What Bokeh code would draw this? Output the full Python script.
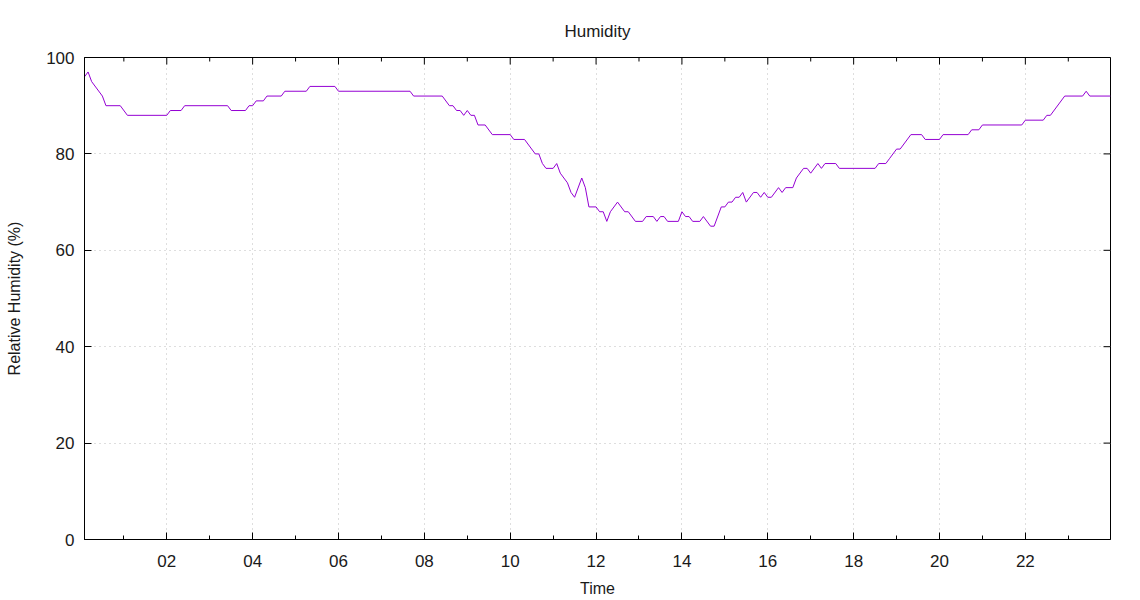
import math
import pandas as pd
from bokeh.plotting import figure
from bokeh.models import FixedTicker, Range1d
from bokeh.embed import file_html
from bokeh.resources import INLINE

# ---- data ----
times = ["00:05", "00:10", "00:15", "00:30", "00:35", "00:55", "01:05", "02:00", "02:05", "02:20",
         "02:25", "03:25", "03:30", "03:50", "03:55", "04:00", "04:05", "04:15", "04:20", "04:40",
         "04:45", "05:15", "05:20", "05:55", "06:00", "07:40", "07:45", "08:25", "08:35", "08:40",
         "08:45", "08:50", "08:55", "09:00", "09:05", "09:10", "09:15", "09:25", "09:35", "10:00",
         "10:05", "10:20", "10:35", "10:40", "10:45", "10:50", "11:00", "11:05", "11:10", "11:15",
         "11:20", "11:25", "11:30", "11:40", "11:45", "11:50", "12:00", "12:05", "12:10", "12:15",
         "12:20", "12:30", "12:40", "12:45", "12:55", "13:05", "13:10", "13:20", "13:25", "13:30",
         "13:35", "13:40", "13:55", "14:00", "14:05", "14:10", "14:15", "14:25", "14:30", "14:40",
         "14:45", "14:55", "15:00", "15:05", "15:10", "15:15", "15:20", "15:25", "15:30", "15:40",
         "15:45", "15:50", "15:55", "16:00", "16:05", "16:15", "16:20", "16:25", "16:35", "16:40",
         "16:50", "16:55", "17:00", "17:10", "17:15", "17:20", "17:35", "17:40", "18:30", "18:35",
         "18:45", "18:50", "19:00", "19:05", "19:20", "19:35", "19:40", "20:00", "20:05", "20:40",
         "20:45", "20:55", "21:00", "21:55", "22:00", "22:25", "22:30", "22:35", "22:55", "23:20",
         "23:25", "23:30", "23:59"]
humidity = [96, 97, 95, 92, 90, 90, 88, 88, 89, 89,
            90, 90, 89, 89, 90, 90, 91, 91, 92, 92,
            93, 93, 94, 94, 93, 93, 92, 92, 90, 90,
            89, 89, 88, 89, 88, 88, 86, 86, 84, 84,
            83, 83, 80, 80, 78, 77, 77, 78, 76, 75,
            74, 72, 71, 75, 73, 69, 69, 68, 68, 66,
            68, 70, 68, 68, 66, 66, 67, 67, 66, 67,
            67, 66, 66, 68, 67, 67, 66, 66, 67, 65,
            65, 69, 69, 70, 70, 71, 71, 72, 70, 72,
            72, 71, 72, 71, 71, 73, 72, 73, 73, 75,
            77, 77, 76, 78, 77, 78, 78, 77, 77, 78,
            78, 79, 81, 81, 84, 84, 83, 83, 84, 84,
            85, 85, 86, 86, 87, 87, 88, 88, 92, 92,
            93, 92, 92]

x_ticks = [2, 4, 6, 8, 10, 12, 14, 16, 18, 20, 22]
x_tick_labels = ["02", "04", "06", "08", "10", "12", "14", "16", "18", "20", "22"]
x_minor_ticks = [1, 3, 5, 7, 9, 11, 13, 15, 17, 19, 21, 23]
y_ticks = [0, 20, 40, 60, 80, 100]
y_min, y_max = 0, 100

td = pd.to_timedelta([t + ":00" for t in times])
hours = (td.total_seconds() / 3600.0).tolist()
x_min, x_max = min(hours), max(hours)

FONT = "Liberation Sans"
TXT = "#1a1a1a"

p = figure(width=1140, height=600, output_backend="svg", toolbar_location=None,
           x_range=Range1d(x_min, x_max), y_range=Range1d(y_min, y_max),
           min_border_left=84, min_border_right=30, min_border_top=57, min_border_bottom=61,
           background_fill_color="white", border_fill_color="white")

p.title.text = "Humidity"
p.title.align = "center"
p.title.text_font = FONT
p.title.text_font_size = "17px"
p.title.text_font_style = "normal"
p.title.text_color = TXT
p.title.standoff = 34

p.outline_line_color = "black"
p.outline_line_width = 1

xt = FixedTicker(ticks=x_ticks, minor_ticks=x_minor_ticks)
yt = FixedTicker(ticks=y_ticks)

xa = p.xaxis[0]
xa.ticker = xt
xa.major_label_overrides = {t: l for t, l in zip(x_ticks, x_tick_labels)}
ya = p.yaxis[0]
ya.ticker = yt
xa.axis_label = "Time"
ya.axis_label = "Relative Humidity (%)"

for ax in (xa, ya):
    ax.axis_line_color = "black"
    ax.major_tick_in = 7
    ax.major_tick_out = 0
    ax.minor_tick_in = 4
    ax.minor_tick_out = 0
    ax.major_tick_line_color = "black"
    ax.minor_tick_line_color = "black"
    ax.major_label_text_font = FONT
    ax.major_label_text_font_size = "17px"
    ax.major_label_text_color = TXT
    ax.axis_label_text_font = FONT
    ax.axis_label_text_font_size = "16px"
    ax.axis_label_text_font_style = "normal"
    ax.axis_label_text_color = TXT
xa.major_label_standoff = 15
xa.axis_label_standoff = 10
ya.major_label_standoff = 10
ya.axis_label_standoff = 20

p.xgrid.ticker = xt
p.ygrid.ticker = yt
for g in (p.xgrid[0], p.ygrid[0]):
    g.grid_line_color = "#bdbdbd"
    g.grid_line_dash = "1 4"
    g.grid_line_width = 1

p.line(hours, humidity, line_color="#9400d3", line_width=1)

# mirrored inward ticks on the top and right borders (clipped to the frame)
p.scatter(x_ticks, [y_max] * len(x_ticks), marker="dash", angle=math.pi / 2, size=14,
          line_color="black", line_width=1)
p.scatter(x_minor_ticks, [y_max] * len(x_minor_ticks), marker="dash", angle=math.pi / 2, size=8,
          line_color="black", line_width=1)
p.scatter([x_max] * len(y_ticks), y_ticks, marker="dash", size=14,
          line_color="black", line_width=1)

open("out.html", "w").write(file_html(p, INLINE))
